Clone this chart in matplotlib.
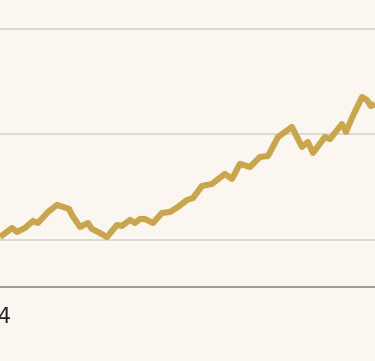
import matplotlib
matplotlib.use("Agg")
import matplotlib.pyplot as plt
import matplotlib.transforms as mtransforms

# months since Jan 2014 and index value
months = [1.11, 1.81, 2.10, 2.56, 3.03, 3.32, 3.90, 4.43, 4.78, 5.13, 5.30,
          5.77, 6.23, 6.46, 6.81, 7.34, 7.92, 8.21, 8.68, 8.97, 9.26, 9.55,
          10.02, 10.54, 11.01, 11.47, 12.00, 12.35, 12.87, 13.45, 14.21, 14.62,
          15.08, 15.67, 16.25, 16.72, 17.30, 18.11, 18.70, 19.04, 19.34, 20.03,
          20.33, 21.02, 21.26, 21.66, 22.19, 22.48, 22.71, 22.95]
values = [102.8, 111.4, 107.6, 111.4, 118.0, 116.1, 126.5, 133.2, 131.3, 129.4, 123.7,
          112.3, 116.1, 110.4, 107.6, 102.8, 114.2, 113.3, 119.0, 116.1, 119.9, 119.9,
          116.1, 125.6, 126.5, 131.3, 137.9, 139.8, 151.2, 153.1, 162.6, 157.9,
          172.1, 169.2, 178.7, 179.6, 197.6, 207.1, 188.2, 192.9, 182.5, 197.6,
          195.7, 209.9, 202.4, 217.5, 235.5, 232.7, 227.0, 228.9]

grid_values = [100, 200, 300]
tick_pos = [0.25]
tick_labels = ["2014"]

bg = "#FBF6EF"
fig = plt.figure(figsize=(3.75, 3.61), dpi=100, facecolor=bg)
ax = fig.add_axes([0, 74 / 361, 1, 287 / 361])
ax.set_facecolor(bg)

for g in grid_values:
    ax.axhline(g, color="#DDD6CC", lw=1.3, zorder=1)

ax.plot(months, values, color="#C9A64E", lw=4.4, solid_joinstyle="round",
        solid_capstyle="butt", zorder=3, clip_on=False)

for s in ["top", "right", "left"]:
    ax.spines[s].set_visible(False)
ax.spines["bottom"].set_color("#8C8C8C")
ax.spines["bottom"].set_linewidth(1.2)

ax.set_yticks([])
ax.set_xticks([])

ax.set_xlim(1.107, 22.95)
ax.set_ylim(55.4, 327.5)

# year label sits left of the visible range, so draw it as text
trans = mtransforms.blended_transform_factory(ax.transData, ax.transAxes)
for x, lab in zip(tick_pos, tick_labels):
    ax.text(x, -0.068, lab, transform=trans, ha="center", va="top",
            fontsize=15, color="#222222", clip_on=False)

fig.savefig("out.png", dpi=100, facecolor=bg)
